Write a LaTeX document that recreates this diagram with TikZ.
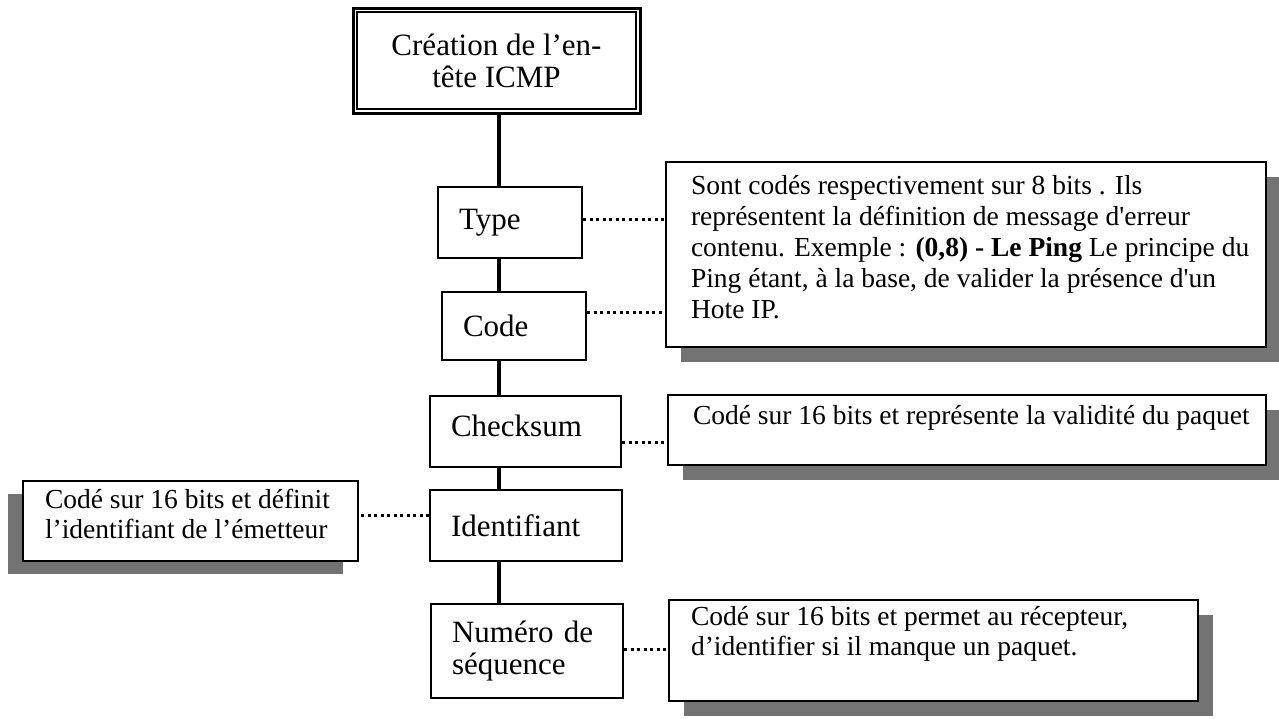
\documentclass[tikz,border=0pt]{standalone}
\usepackage{fontspec}
\setmainfont{Liberation Serif}[Ligatures=TeXOff]
\usetikzlibrary{shadows}
\newcommand\dtext[4]{\parbox[c][#2pt][t]{#1pt}{\raggedright\rule{0pt}{#3pt}#4}}
\begin{document}
\begin{tikzpicture}[x=1pt,y=-1pt,
  lab/.style={draw, line width=2pt, fill=white, anchor=north west, inner xsep=21pt, inner ysep=0pt,
    align=left, font=\fontsize{31}{32}\selectfont},
  desc/.style={draw, line width=2pt, fill=white, anchor=north west, inner xsep=25pt, inner ysep=0pt,
    font=\fontsize{27.5}{30}\selectfont},
  shR/.style={drop shadow={shadow xshift=15pt, shadow yshift=-15pt, fill=black!55, opacity=1}},
  shL/.style={drop shadow={shadow xshift=-15pt, shadow yshift=-13pt, fill=black!55, opacity=1}},
  spine/.style={line width=3.5pt},
  dotc/.style={line width=3pt, dash pattern=on 3pt off 3.5pt}]
\useasboundingbox (0,0) rectangle (1279,718);
% title box
\node[draw, line width=3pt, minimum width=287pt, minimum height=105pt, align=center,
  font=\fontsize{31}{32}\selectfont] (top) at (496.5,60.5) {Création de l’en-\\tête ICMP};
\draw[line width=1.5pt] ([xshift=5.5pt,yshift=-5.5pt]top.north west) rectangle ([xshift=-5.5pt,yshift=5.5pt]top.south east);
% field boxes
\node[lab, minimum width=144pt, minimum height=71pt, text width=102pt] (typ) at (437,186) {Type};
\node[lab, minimum width=144pt, minimum height=68pt, text width=102pt] (cod) at (441,291) {Code};
\node[lab, minimum width=191pt, minimum height=71pt, text width=149pt] (chk) at (429,395) {Checksum\rule[-12pt]{0pt}{0pt}};
\node[lab, minimum width=192pt, minimum height=71pt, text width=150pt] (idt) at (429,489) {Identifiant};
\node[lab, minimum width=192pt, minimum height=94pt, text width=150pt] (num) at (430,603) {Numéro de\\séquence};
% description boxes
\node[desc, shR, font=\fontsize{27.5}{31}\selectfont] (big) at (665,161) {\dtext{550}{185}{32}{\mbox{Sont codés respectivement sur 8 bits . Ils}\\
\mbox{représentent la définition de message d'erreur}\\
\mbox{contenu. Exemple : \textbf{(0,8) - Le Ping} Le principe du}\\
\mbox{Ping étant, à la base, de valider la présence d'un}\\
\mbox{Hote IP.}}};
\node[desc, shR] (chkd) at (667,394) {\dtext{548}{70}{29}{\mbox{Codé sur 16 bits et représente la validité du paquet}}};
\node[desc, shL, inner xsep=22pt] (idtd) at (22,480) {\dtext{291}{80}{27}{\mbox{Codé sur 16 bits et définit}\\\mbox{l’identifiant de l’émetteur}}};
\node[desc, shR, inner xsep=22pt] (numd) at (668,599) {\dtext{485}{101}{25}{\mbox{Codé sur 16 bits et permet au récepteur,}\\\mbox{d’identifier si il manque un paquet.}}};
% spine
\coordinate (sp) at (499,0);
\draw[spine] (top.south -| sp) -- (typ.north -| sp);
\draw[spine] (typ.south -| sp) -- (cod.north -| sp);
\draw[spine] (cod.south -| sp) -- (chk.north -| sp);
\draw[spine] (chk.south -| sp) -- (idt.north -| sp);
\draw[spine] (idt.south -| sp) -- (num.north -| sp);
% dotted links
\draw[dotc] ([yshift=3.5pt]typ.east) -- ([yshift=3.5pt]typ.east -| big.west);
\draw[dotc] ([yshift=14pt]cod.east) -- ([yshift=14pt]cod.east -| big.west);
\draw[dotc] ([yshift=-10.5pt]chk.east) -- ([yshift=-10.5pt]chk.east -| chkd.west);
\draw[dotc] ([yshift=10.5pt]idt.west) -- ([yshift=10.5pt]idt.west -| idtd.east);
\draw[dotc] ([yshift=2pt]num.east) -- ([yshift=2pt]num.east -| numd.west);
\end{tikzpicture}
\end{document}
